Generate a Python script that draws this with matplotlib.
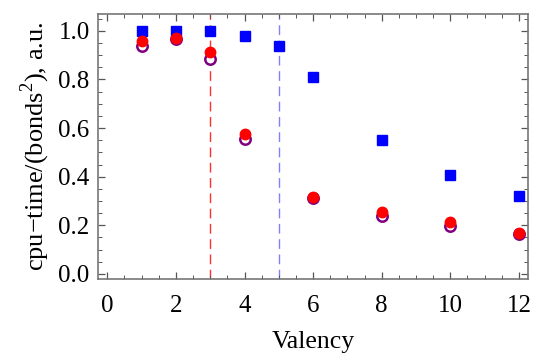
import matplotlib
matplotlib.use("Agg")
import matplotlib.pyplot as plt
from matplotlib.ticker import MultipleLocator

valency = [1, 2, 3, 4, 5, 6, 8, 10, 12]
blue_sq = [1.0, 1.0, 1.0, 0.979, 0.937, 0.811, 0.553, 0.405, 0.32]
red_x = [1, 2, 3, 4, 6, 8, 10, 12]
red_filled = [0.959, 0.971, 0.914, 0.575, 0.317, 0.254, 0.213, 0.169]
purple_open = [0.938, 0.965, 0.886, 0.557, 0.312, 0.237, 0.196, 0.163]
vlines = [3, 5]

plt.rcParams['font.family'] = ['Liberation Serif', 'DejaVu Serif']
plt.rcParams['mathtext.fontset'] = 'custom'
plt.rcParams['mathtext.rm'] = 'Liberation Serif'

fig = plt.figure(figsize=(5.33, 3.56), dpi=100)
ax = fig.add_axes([0.184, 0.215, 0.807, 0.746])

ax.axvline(vlines[0], color='#ff3030', lw=1.0, dashes=(7, 4), zorder=1)
ax.axvline(vlines[1], color='#8080ff', lw=1.0, dashes=(7, 4), zorder=1)

ax.plot(valency, blue_sq, 's', color='#0000ff', ms=7.5, mec='#0000ff', zorder=3)
ax.plot(red_x, purple_open, 'o', mfc='white', mec='#800080', mew=1.8, ms=7.5, zorder=3)
ax.plot(red_x, red_filled, 'o', color='#ff0000', ms=7.5, zorder=4)

ax.set_xlim(-0.27, 12.27)
ax.set_ylim(-0.023, 1.07)
ax.xaxis.set_major_locator(MultipleLocator(2))
ax.xaxis.set_minor_locator(MultipleLocator(0.5))
ax.yaxis.set_major_locator(MultipleLocator(0.2))
ax.yaxis.set_minor_locator(MultipleLocator(0.05))
ax.yaxis.set_major_formatter(matplotlib.ticker.FormatStrFormatter('%.1f'))

ax.tick_params(which='both', direction='in', top=True, right=True, color='#555555')
ax.tick_params(which='major', length=5, width=0.9, labelsize=18, pad=6)
ax.tick_params(axis='x', which='major', pad=11)
ax.tick_params(which='minor', length=3, width=0.7)
for s in ax.spines.values():
    s.set_color('#777777')
    s.set_linewidth(1.2)

ax.set_xlabel('Valency', fontsize=18.5, labelpad=10)
ax.set_ylabel(r'cpu$-$time/(bonds$^2$), a.u.', fontsize=19, labelpad=5)

fig.savefig('out.png', dpi=100)
